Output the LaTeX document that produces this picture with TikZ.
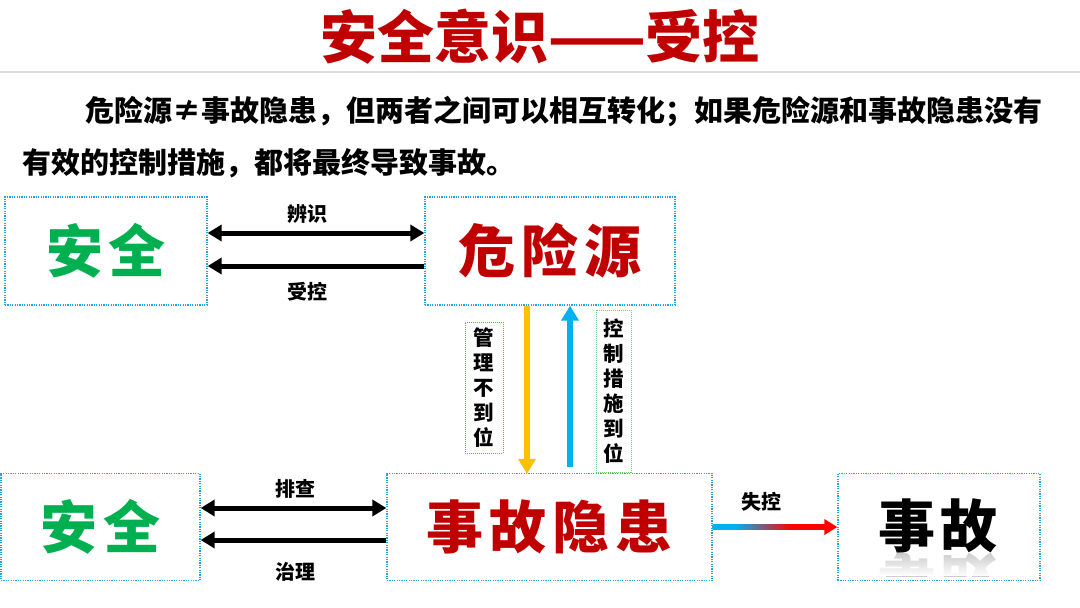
\documentclass[tikz,border=0pt]{standalone}
\usepackage{fontspec}
\setmainfont{Noto Sans CJK SC}
\usetikzlibrary{arrows.meta,calc,fadings}
\definecolor{titlered}{RGB}{192,0,0}
\definecolor{okgreen}{RGB}{0,176,80}
\definecolor{boxblue}{RGB}{40,165,215}
\definecolor{arryellow}{RGB}{255,192,0}
\definecolor{arrblue}{RGB}{0,176,240}
\definecolor{lblred}{RGB}{235,110,90}
\definecolor{lblgreen}{RGB}{120,200,120}
\pgfdeclarehorizontalshading{bluered}{100bp}{color(0bp)=(arrblue); color(35bp)=(arrblue); color(60bp)=(red); color(100bp)=(red)}
\newcommand{\gap}{\hspace{6pt}}
\begin{document}
\begin{tikzpicture}[x=1pt,y=-1pt,
  >={Triangle[length=14pt,width=16pt]},
  panel/.style={draw=boxblue, dash pattern=on 1.2pt off 1.2pt, line width=1.3pt, inner sep=0pt},
  bigtxt/.style={font=\fontsize{57}{60}\selectfont\bfseries},
  lbl/.style={font=\fontsize{20}{22}\selectfont\bfseries, inner sep=0pt},
  vlbl/.style={font=\fontsize{20.5}{25}\selectfont\bfseries, align=center, inner sep=0pt, dash pattern=on 1pt off 1pt, line width=0.9pt},
  blk/.style={line width=5pt, black}
]
\useasboundingbox (0,0) rectangle (1080,608);
% title
\node[font=\fontsize{57}{60}\selectfont\bfseries, text=titlered] (title) at (540,37) {安全意识——受控};
\draw[gray!25, line width=1.5pt] (0,72) -- (1080,72);
% paragraph
\node[anchor=west, inner sep=0pt, font=\fontsize{29}{30}\selectfont\bfseries] (p1) at (85,112) {危险源≠事故隐患，但两者之间可以相互转化；如果危险源和事故隐患没有};
\node[anchor=west, inner sep=0pt, font=\fontsize{29}{30}\selectfont\bfseries] (p2) at (22,163) {有效的控制措施，都将最终导致事故。};
% boxes
\node[panel, bigtxt, text=okgreen, minimum width=202pt, minimum height=108pt] (safe1) at (106,251) {安\gap 全};
\node[panel, bigtxt, text=titlered, minimum width=250pt, minimum height=108pt] (hazard) at (550,251) {危\gap 险\gap 源};
\node[panel, bigtxt, text=okgreen, minimum width=199pt, minimum height=107pt] (safe2) at (100.5,527) {安\gap 全};
\node[panel, bigtxt, text=titlered, minimum width=325pt, minimum height=107pt] (hidden) at (549.5,527) {事\gap 故\gap 隐\gap 患};
\node[panel, minimum width=202pt, minimum height=107pt] (acc) at (939,527) {};
% reflection of 事故
\begin{scope}
\clip (840,553) rectangle (1038,576);
\node[bigtxt, text=gray!40, yscale=-1] (accrefl) at (938,580) {事\gap 故};
\fill[white, path fading=north] (840,553) rectangle (1038,576);
\end{scope}
\node[bigtxt, text=black] (acctxt) at (938,526) {事\gap 故};
% black arrows top
\draw[blk, <->] ($(safe1.east)+(0,-18)$) -- ($(hazard.west)+(0,-18)$);
\draw[blk, <-] ($(safe1.east)+(0,15)$) -- ($(hazard.west)+(0,15)$);
\node[lbl] (l1) at (307,214) {辨识};
\node[lbl] (l2) at (307,292) {受控};
% black arrows bottom
\draw[blk, <->] ($(safe2.east)+(0,-19)$) -- ($(hidden.west)+(0,-19)$);
\draw[blk, <-] ($(safe2.east)+(0,13)$) -- ($(hidden.west)+(0,13)$);
\node[lbl] (l3) at (295,489) {排查};
\node[lbl] (l4) at (295,572) {治理};
% vertical arrows
\draw[arryellow, line width=6pt, -{Triangle[length=15pt,width=17pt]}] ($(hazard.south)+(-23,0)$) -- ($(hidden.north)+(-22.5,1)$);
\draw[arrblue, line width=6pt, -{Triangle[length=15pt,width=17pt]}] ($(hidden.north)+(20.5,-6)$) -- ($(hazard.south)+(20,0)$);
\node[vlbl, draw=lblred, minimum width=38pt, minimum height=131pt] (v1) at (484,387.5) {管\\理\\不\\到\\位};
\node[vlbl, draw=lblgreen, minimum width=35pt, minimum height=162pt] (v2) at (613.5,391) {控\\制\\措\\施\\到\\位};
% lose control arrow
\shade[shading=bluered] ($(hidden.east)+(0,-2.5)$) rectangle ($(acc.west)+(-12,2.5)$);
\draw[red, line width=5pt, -{Triangle[length=13pt,width=15pt]}] ($(acc.west)+(-13,0)$) -- (acc.west);
\node[lbl] (l5) at (761,502) {失控};
\end{tikzpicture}
\end{document}
